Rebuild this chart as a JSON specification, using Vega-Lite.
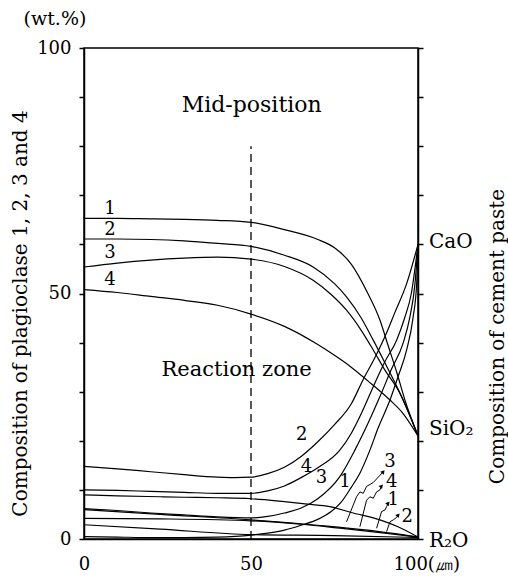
{
  "$schema": "https://vega.github.io/schema/vega-lite/v6.json",
  "width": 334,
  "height": 491,
  "autosize": "none",
  "padding": {"left": 84, "top": 48, "right": 90, "bottom": 41},
  "background": "white",
  "config": {
    "view": {"stroke": "black", "strokeWidth": 1.5},
    "font": "DejaVu Serif",
    "axis": {
      "grid": false,
      "domainColor": "black",
      "tickColor": "black",
      "labelColor": "black",
      "titleColor": "black",
      "domainWidth": 1.5,
      "tickWidth": 1.5,
      "labelFont": "DejaVu Serif",
      "titleFont": "DejaVu Serif",
      "titleFontWeight": "normal",
      "labelFontSize": 18,
      "titleFontSize": 20
    }
  },
  "datasets": {
    "curves": [
      {"s": "SiO2-1", "x": 0, "y": 65.3}, {"s": "SiO2-1", "x": 10, "y": 65.3}, {"s": "SiO2-1", "x": 20, "y": 65.2}, {"s": "SiO2-1", "x": 30, "y": 65.1}, {"s": "SiO2-1", "x": 40, "y": 64.9}, {"s": "SiO2-1", "x": 50, "y": 64.5}, {"s": "SiO2-1", "x": 60, "y": 63}, {"s": "SiO2-1", "x": 70, "y": 61}, {"s": "SiO2-1", "x": 75, "y": 59.3}, {"s": "SiO2-1", "x": 80, "y": 56}, {"s": "SiO2-1", "x": 85, "y": 50}, {"s": "SiO2-1", "x": 88.6, "y": 44.6}, {"s": "SiO2-1", "x": 91, "y": 39.5}, {"s": "SiO2-1", "x": 93.7, "y": 33.8}, {"s": "SiO2-1", "x": 96, "y": 28.5}, {"s": "SiO2-1", "x": 100, "y": 21},
      {"s": "SiO2-2", "x": 0, "y": 61.1}, {"s": "SiO2-2", "x": 10, "y": 61.1}, {"s": "SiO2-2", "x": 20, "y": 61}, {"s": "SiO2-2", "x": 30, "y": 60.7}, {"s": "SiO2-2", "x": 40, "y": 60.2}, {"s": "SiO2-2", "x": 50, "y": 59.6}, {"s": "SiO2-2", "x": 60, "y": 57.8}, {"s": "SiO2-2", "x": 68.6, "y": 55.4}, {"s": "SiO2-2", "x": 75, "y": 52}, {"s": "SiO2-2", "x": 78.6, "y": 49.3}, {"s": "SiO2-2", "x": 83, "y": 45}, {"s": "SiO2-2", "x": 86.6, "y": 40.5}, {"s": "SiO2-2", "x": 90, "y": 36}, {"s": "SiO2-2", "x": 93.7, "y": 31}, {"s": "SiO2-2", "x": 97, "y": 26}, {"s": "SiO2-2", "x": 100, "y": 21},
      {"s": "SiO2-3", "x": 0, "y": 55.4}, {"s": "SiO2-3", "x": 10, "y": 56.2}, {"s": "SiO2-3", "x": 20, "y": 56.8}, {"s": "SiO2-3", "x": 30, "y": 57.2}, {"s": "SiO2-3", "x": 40, "y": 57.4}, {"s": "SiO2-3", "x": 50, "y": 57}, {"s": "SiO2-3", "x": 60, "y": 55.5}, {"s": "SiO2-3", "x": 68.6, "y": 52.7}, {"s": "SiO2-3", "x": 74, "y": 49.8}, {"s": "SiO2-3", "x": 78.6, "y": 46.6}, {"s": "SiO2-3", "x": 83, "y": 42.5}, {"s": "SiO2-3", "x": 86.6, "y": 38.5}, {"s": "SiO2-3", "x": 90, "y": 34.5}, {"s": "SiO2-3", "x": 94.6, "y": 29.7}, {"s": "SiO2-3", "x": 100, "y": 21},
      {"s": "SiO2-4", "x": 0, "y": 50.8}, {"s": "SiO2-4", "x": 10, "y": 50.2}, {"s": "SiO2-4", "x": 20, "y": 49.4}, {"s": "SiO2-4", "x": 30, "y": 48.6}, {"s": "SiO2-4", "x": 40, "y": 47.6}, {"s": "SiO2-4", "x": 50, "y": 45.8}, {"s": "SiO2-4", "x": 60, "y": 43.3}, {"s": "SiO2-4", "x": 70, "y": 39.6}, {"s": "SiO2-4", "x": 75, "y": 37.4}, {"s": "SiO2-4", "x": 80, "y": 35}, {"s": "SiO2-4", "x": 85, "y": 32.2}, {"s": "SiO2-4", "x": 91.6, "y": 28.3}, {"s": "SiO2-4", "x": 95, "y": 26}, {"s": "SiO2-4", "x": 100, "y": 21},
      {"s": "CaO-2", "x": 0, "y": 14.8}, {"s": "CaO-2", "x": 10, "y": 14.3}, {"s": "CaO-2", "x": 20, "y": 13.7}, {"s": "CaO-2", "x": 30, "y": 13.1}, {"s": "CaO-2", "x": 40, "y": 12.6}, {"s": "CaO-2", "x": 45, "y": 12.5}, {"s": "CaO-2", "x": 50, "y": 12.6}, {"s": "CaO-2", "x": 55, "y": 13.3}, {"s": "CaO-2", "x": 60, "y": 14.6}, {"s": "CaO-2", "x": 65, "y": 16.8}, {"s": "CaO-2", "x": 70, "y": 19.8}, {"s": "CaO-2", "x": 75, "y": 23.3}, {"s": "CaO-2", "x": 80, "y": 27.5}, {"s": "CaO-2", "x": 83.6, "y": 32.5}, {"s": "CaO-2", "x": 87, "y": 36.8}, {"s": "CaO-2", "x": 90.6, "y": 42}, {"s": "CaO-2", "x": 93, "y": 46}, {"s": "CaO-2", "x": 96.6, "y": 52}, {"s": "CaO-2", "x": 100, "y": 60},
      {"s": "CaO-4", "x": 0, "y": 10}, {"s": "CaO-4", "x": 10, "y": 9.9}, {"s": "CaO-4", "x": 20, "y": 9.7}, {"s": "CaO-4", "x": 30, "y": 9.5}, {"s": "CaO-4", "x": 40, "y": 9.3}, {"s": "CaO-4", "x": 50, "y": 9.3}, {"s": "CaO-4", "x": 55, "y": 9.8}, {"s": "CaO-4", "x": 60, "y": 10.8}, {"s": "CaO-4", "x": 65, "y": 12.5}, {"s": "CaO-4", "x": 70, "y": 14.5}, {"s": "CaO-4", "x": 76.6, "y": 18.1}, {"s": "CaO-4", "x": 80, "y": 21.5}, {"s": "CaO-4", "x": 83, "y": 25.5}, {"s": "CaO-4", "x": 86.6, "y": 31}, {"s": "CaO-4", "x": 90, "y": 36}, {"s": "CaO-4", "x": 93.6, "y": 40.5}, {"s": "CaO-4", "x": 96, "y": 45}, {"s": "CaO-4", "x": 98, "y": 50}, {"s": "CaO-4", "x": 100, "y": 60},
      {"s": "CaO-3", "x": 0, "y": 6.2}, {"s": "CaO-3", "x": 10, "y": 5.8}, {"s": "CaO-3", "x": 20, "y": 5.3}, {"s": "CaO-3", "x": 30, "y": 4.9}, {"s": "CaO-3", "x": 40, "y": 4.5}, {"s": "CaO-3", "x": 50, "y": 4.3}, {"s": "CaO-3", "x": 55, "y": 4.6}, {"s": "CaO-3", "x": 60, "y": 5.3}, {"s": "CaO-3", "x": 65, "y": 6.3}, {"s": "CaO-3", "x": 70, "y": 8.2}, {"s": "CaO-3", "x": 76.6, "y": 12.7}, {"s": "CaO-3", "x": 81.1, "y": 18.1}, {"s": "CaO-3", "x": 85, "y": 23.5}, {"s": "CaO-3", "x": 88.6, "y": 29}, {"s": "CaO-3", "x": 92, "y": 34.5}, {"s": "CaO-3", "x": 95.6, "y": 40}, {"s": "CaO-3", "x": 97.5, "y": 45}, {"s": "CaO-3", "x": 99.1, "y": 52}, {"s": "CaO-3", "x": 100, "y": 60},
      {"s": "CaO-1", "x": 0, "y": 0.5}, {"s": "CaO-1", "x": 10, "y": 0.4}, {"s": "CaO-1", "x": 20, "y": 0.3}, {"s": "CaO-1", "x": 30, "y": 0.3}, {"s": "CaO-1", "x": 40, "y": 0.4}, {"s": "CaO-1", "x": 50, "y": 0.8}, {"s": "CaO-1", "x": 55, "y": 1.2}, {"s": "CaO-1", "x": 60, "y": 1.8}, {"s": "CaO-1", "x": 65, "y": 2.8}, {"s": "CaO-1", "x": 70, "y": 4.0}, {"s": "CaO-1", "x": 74, "y": 5.6}, {"s": "CaO-1", "x": 77, "y": 7.5}, {"s": "CaO-1", "x": 80, "y": 10.5}, {"s": "CaO-1", "x": 82.6, "y": 13.4}, {"s": "CaO-1", "x": 85.6, "y": 18.1}, {"s": "CaO-1", "x": 88, "y": 22.5}, {"s": "CaO-1", "x": 91.6, "y": 28.3}, {"s": "CaO-1", "x": 94, "y": 33}, {"s": "CaO-1", "x": 96.6, "y": 38.5}, {"s": "CaO-1", "x": 98.5, "y": 45}, {"s": "CaO-1", "x": 99.6, "y": 52}, {"s": "CaO-1", "x": 100, "y": 60},
      {"s": "R2O-a", "x": 0, "y": 9}, {"s": "R2O-a", "x": 10, "y": 8.8}, {"s": "R2O-a", "x": 22.8, "y": 8.6}, {"s": "R2O-a", "x": 30, "y": 8.5}, {"s": "R2O-a", "x": 40, "y": 8.4}, {"s": "R2O-a", "x": 50, "y": 8.2}, {"s": "R2O-a", "x": 60, "y": 7.6}, {"s": "R2O-a", "x": 67, "y": 7.1}, {"s": "R2O-a", "x": 73.6, "y": 6.6}, {"s": "R2O-a", "x": 80, "y": 5.4}, {"s": "R2O-a", "x": 88.6, "y": 3.9}, {"s": "R2O-a", "x": 94, "y": 2.5}, {"s": "R2O-a", "x": 100, "y": 0.4},
      {"s": "R2O-b", "x": 0, "y": 6.0}, {"s": "R2O-b", "x": 22.8, "y": 5.0}, {"s": "R2O-b", "x": 50, "y": 3.9}, {"s": "R2O-b", "x": 70, "y": 2.8}, {"s": "R2O-b", "x": 85, "y": 1.8}, {"s": "R2O-b", "x": 100, "y": 0.4},
      {"s": "R2O-c", "x": 0, "y": 4.2}, {"s": "R2O-c", "x": 22.8, "y": 4.1}, {"s": "R2O-c", "x": 50, "y": 3.7}, {"s": "R2O-c", "x": 65, "y": 3}, {"s": "R2O-c", "x": 76.6, "y": 2.2}, {"s": "R2O-c", "x": 90, "y": 1.2}, {"s": "R2O-c", "x": 100, "y": 0.4},
      {"s": "R2O-d", "x": 0, "y": 2.9}, {"s": "R2O-d", "x": 22.8, "y": 2.0}, {"s": "R2O-d", "x": 50, "y": 0.9}, {"s": "R2O-d", "x": 75, "y": 0.7}, {"s": "R2O-d", "x": 100, "y": 0.3}
    ],
    "arrows": [
      {"a": "3", "x": 78.6, "y": 3.5}, {"a": "3", "x": 81.6, "y": 8.6}, {"a": "3", "x": 82.6, "y": 9.6}, {"a": "3", "x": 83.6, "y": 9.3}, {"a": "3", "x": 84.6, "y": 10.7}, {"a": "3", "x": 86.6, "y": 11.5}, {"a": "3", "x": 89.6, "y": 13.7},
      {"a": "4", "x": 82.6, "y": 2.5}, {"a": "4", "x": 84.6, "y": 7.9}, {"a": "4", "x": 85.6, "y": 8.6}, {"a": "4", "x": 86.6, "y": 8.3}, {"a": "4", "x": 87.6, "y": 9.6}, {"a": "4", "x": 88.6, "y": 10}, {"a": "4", "x": 89.1, "y": 10.8},
      {"a": "1", "x": 87.6, "y": 2.2}, {"a": "1", "x": 89.1, "y": 5.6}, {"a": "1", "x": 90.1, "y": 5.9}, {"a": "1", "x": 90.6, "y": 6.6}, {"a": "1", "x": 91.1, "y": 7.3},
      {"a": "2", "x": 90.6, "y": 1.5}, {"a": "2", "x": 91.6, "y": 3.5}, {"a": "2", "x": 92.6, "y": 3.9}, {"a": "2", "x": 93.6, "y": 4.4}, {"a": "2", "x": 94.1, "y": 4.9}
    ],
    "heads": [
      {"x": 89.6, "y": 13.7}, {"x": 89.1, "y": 10.8}, {"x": 91.1, "y": 7.3}, {"x": 94.1, "y": 4.9}
    ],
    "labels": [
      {"t": "1", "x": 7.8, "y": 67.3}, {"t": "2", "x": 7.8, "y": 62.9}, {"t": "3", "x": 7.8, "y": 58.2}, {"t": "4", "x": 7.8, "y": 52.7},
      {"t": "2", "x": 65.2, "y": 21.2}, {"t": "4", "x": 66.6, "y": 14.7}, {"t": "3", "x": 71.1, "y": 12.4}, {"t": "1", "x": 78.1, "y": 11.7},
      {"t": "3", "x": 91.6, "y": 15.7}, {"t": "4", "x": 92.1, "y": 11.7}, {"t": "1", "x": 92.6, "y": 7.9}, {"t": "2", "x": 96.8, "y": 4.5}
    ],
    "notes": [
      {"t": "Mid-position", "x": 50.2, "y": 88.4, "fs": 22},
      {"t": "Reaction zone", "x": 45.7, "y": 34.4, "fs": 21},
      {"t": "(wt.%)", "x": -8.7, "y": 106, "fs": 19}
    ],
    "oxides": [
      {"t": "CaO", "x": 100, "y": 60.5},
      {"t": "SiO₂", "x": 100, "y": 22.5},
      {"t": "R₂O", "x": 100, "y": -0.5}
    ],
    "mid": [{"x": 50, "y": 0, "y2": 80}]
  },
  "layer": [
    {
      "data": {"name": "curves"},
      "mark": {"type": "line", "interpolate": "monotone", "color": "black", "strokeWidth": 1.2},
      "encoding": {
        "x": {
          "field": "x", "type": "quantitative",
          "scale": {"domain": [0, 100], "nice": false, "zero": false},
          "axis": {
            "orient": "bottom",
            "title": null,
            "values": [0, 50, 100],
            "ticks": false,
            "labelPadding": 16,
            "labelExpr": "datum.value == 100 ? '100(㎛)' : datum.label",
            "labelAlign": {"condition": {"test": "datum.value == 100", "value": "left"}, "value": "center"},
            "labelOffset": {"condition": {"test": "datum.value == 100", "value": -25}, "value": 0}
          }
        },
        "y": {
          "field": "y", "type": "quantitative",
          "scale": {"domain": [0, 100], "nice": false, "zero": false},
          "axis": {
            "orient": "left",
            "values": [0, 10, 20, 30, 40, 50, 60, 70, 80, 90, 100],
            "labelExpr": "datum.value % 50 == 0 ? datum.label : ''",
            "tickSize": 5,
            "labelPadding": 8,
            "title": "Composition of plagioclase 1, 2, 3 and 4",
            "titleX": -64,
            "titleY": 265,
            "titleAngle": 270,
            "titleAlign": "center",
            "titleBaseline": "middle"
          }
        },
        "detail": {"field": "s", "type": "nominal"}
      }
    },
    {
      "data": {"name": "mid"},
      "mark": {"type": "rule", "color": "black", "strokeWidth": 1.3, "strokeDash": [8, 5]},
      "encoding": {
        "x": {"field": "x", "type": "quantitative", "scale": {"domain": [0, 100], "nice": false, "zero": false}, "axis": null},
        "y": {"field": "y", "type": "quantitative", "scale": {"domain": [0, 100], "nice": false, "zero": false}, "axis": null},
        "y2": {"field": "y2"}
      }
    },
    {
      "data": {"name": "arrows"},
      "mark": {"type": "line", "color": "black", "strokeWidth": 1},
      "encoding": {
        "x": {"field": "x", "type": "quantitative", "scale": {"domain": [0, 100], "nice": false, "zero": false}, "axis": null},
        "y": {"field": "y", "type": "quantitative", "scale": {"domain": [0, 100], "nice": false, "zero": false}, "axis": null},
        "detail": {"field": "a", "type": "nominal"}
      }
    },
    {
      "data": {"name": "heads"},
      "mark": {"type": "point", "shape": "triangle-up", "angle": 40, "filled": true, "color": "black", "size": 22, "opacity": 1},
      "encoding": {
        "x": {"field": "x", "type": "quantitative", "scale": {"domain": [0, 100], "nice": false, "zero": false}, "axis": null},
        "y": {"field": "y", "type": "quantitative", "scale": {"domain": [0, 100], "nice": false, "zero": false}, "axis": null}
      }
    },
    {
      "data": {"name": "labels"},
      "mark": {"type": "text", "font": "DejaVu Serif", "fontSize": 18, "color": "black", "align": "center", "baseline": "middle"},
      "encoding": {
        "x": {"field": "x", "type": "quantitative", "scale": {"domain": [0, 100], "nice": false, "zero": false}, "axis": null},
        "y": {"field": "y", "type": "quantitative", "scale": {"domain": [0, 100], "nice": false, "zero": false}, "axis": null},
        "text": {"field": "t"}
      }
    },
    {
      "data": {"name": "notes"},
      "mark": {"type": "text", "font": "DejaVu Serif", "color": "black", "align": "center", "baseline": "middle"},
      "encoding": {
        "x": {"field": "x", "type": "quantitative", "scale": {"domain": [0, 100], "nice": false, "zero": false}, "axis": null},
        "y": {"field": "y", "type": "quantitative", "scale": {"domain": [0, 100], "nice": false, "zero": false}, "axis": null},
        "size": {"field": "fs", "type": "quantitative", "scale": null},
        "text": {"field": "t"}
      }
    },
    {
      "data": {"name": "oxides"},
      "mark": {"type": "text", "font": "DejaVu Serif", "fontSize": 20, "color": "black", "align": "left", "baseline": "middle", "dx": 11},
      "encoding": {
        "x": {"field": "x", "type": "quantitative", "scale": {"domain": [0, 100], "nice": false, "zero": false}, "axis": null},
        "y": {
          "field": "y", "type": "quantitative",
          "scale": {"domain": [0, 100], "nice": false, "zero": false},
          "axis": {
            "orient": "right",
            "values": [0, 10, 20, 30, 40, 50, 60, 70, 80, 90, 100],
            "labels": false,
            "tickSize": 5,
            "title": "Composition of cement paste",
            "titleX": 79,
            "titleY": 288,
            "titleAngle": 270,
            "titleAlign": "center",
            "titleBaseline": "middle"
          }
        },
        "text": {"field": "t"}
      }
    }
  ],
  "resolve": {"axis": {"x": "independent", "y": "independent"}}
}
